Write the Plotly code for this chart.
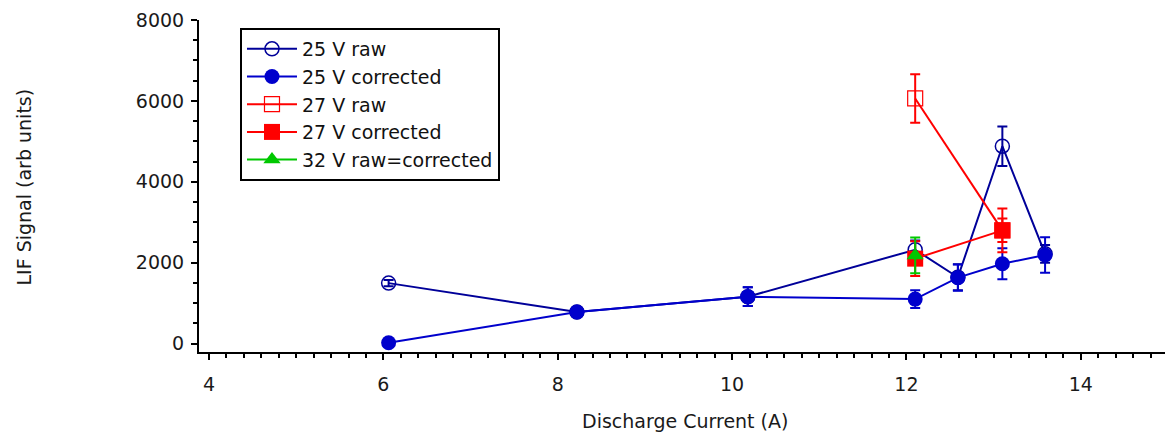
import plotly.graph_objects as go

# ---- data ----
x25 = [6.06, 8.22, 10.18, 12.1, 12.59, 13.1, 13.59]
y25_raw = [1495, 780, 1160, 2320, 1640, 4880, 2220]
e25_raw = [80, 100, 230, 230, 320, 490, 220]
y25_cor = [20, 780, 1160, 1100, 1630, 1975, 2190]
e25_cor = [60, 100, 230, 220, 325, 385, 440]

x27 = [12.1, 13.1]
y27_raw = [6060, 2800]
e27_raw = [600, 290]
y27_cor = [2100, 2800]
e27_cor = [430, 540]

x32 = [12.1]
y32 = [2180]
e32 = [440]

names = ["25 V raw", "25 V corrected", "27 V raw", "27 V corrected", "32 V raw=corrected"]

x_ticks = [4, 6, 8, 10, 12, 14]
y_ticks = [0, 2000, 4000, 6000, 8000]

FONT = "Verdana, DejaVu Sans, sans-serif"
NAVY = "#000099"
BLUE = "#0000cc"
RED = "#ff0000"
GREEN = "#00c800"

fig = go.Figure()

def add(x, y, e, name, color, symbol, size, mline=2):
    fig.add_trace(go.Scatter(
        x=x, y=y, name=name, mode="lines+markers",
        line=dict(color=color, width=2),
        marker=dict(color=color, symbol=symbol, size=size,
                    line=dict(color=color, width=mline)),
        error_y=dict(type="data", array=e, visible=True, color=color,
                     thickness=2, width=5),
    ))

add(x25, y25_raw, e25_raw, names[0], NAVY, "circle-open", 14, 1.5)
add(x25, y25_cor, e25_cor, names[1], BLUE, "circle", 15, 0)
add(x27, y27_raw, e27_raw, names[2], RED, "square-open", 15, 1.2)
add(x27, y27_cor, e27_cor, names[3], RED, "square", 16, 0)
add(x32, y32, e32, names[4], GREEN, "triangle-up", 15, 0)

XR = [3.885, 15.0]
YR = [-208, 8000]

common_x = dict(range=XR, tickvals=x_ticks, showgrid=False, zeroline=False,
                automargin=False)
common_y = dict(range=YR, tickvals=y_ticks, showgrid=False, zeroline=False,
                automargin=False)

fig.update_layout(
    width=1165, height=426,
    margin=dict(l=191, r=5, t=12, b=82, autoexpand=False),
    paper_bgcolor="white", plot_bgcolor="white",
    font=dict(family=FONT, size=19, color="#1a1a1a"),
    showlegend=True,
    legend=dict(
        x=0.0423, y=0.976, xanchor="left", yanchor="top",
        bordercolor="black", borderwidth=2, bgcolor="white",
        font=dict(family=FONT, size=19, color="#111111"),
        itemwidth=50, tracegroupgap=0,
        entrywidth=215, entrywidthmode="pixels",
    ),
    xaxis=dict(**common_x, showline=True, linecolor="black", linewidth=2,
               ticks="outside", ticklen=6, tickwidth=2, tickcolor="black",
               ticklabelstandoff=8, ticklabeloverflow="allow",
               minor=dict(ticks="outside", dtick=0.2, tick0=0, ticklen=4,
                          tickwidth=1.5, tickcolor="black"),
               tickfont=dict(family=FONT, size=19, color="#1a1a1a")),
    yaxis=dict(**common_y, showline=True, linecolor="black", linewidth=2,
               ticks="outside", ticklen=6, tickwidth=2, tickcolor="black",
               ticklabelstandoff=3, ticklabeloverflow="allow",
               minor=dict(ticks="outside", dtick=500, tick0=0, ticklen=4,
                          tickwidth=1.5, tickcolor="black"),
               tickfont=dict(family=FONT, size=19, color="#1a1a1a")),
    xaxis2=dict(**common_x, overlaying="x", anchor="y", side="bottom",
                showline=False, showticklabels=False,
                ticks="inside", ticklen=6, tickwidth=2, tickcolor="black",
                minor=dict(ticks="inside", dtick=0.2, tick0=0, ticklen=4,
                           tickwidth=1.5, tickcolor="black")),
    yaxis2=dict(**common_y, overlaying="y", anchor="x", side="left",
                showline=False, showticklabels=False,
                ticks="inside", ticklen=6, tickwidth=2, tickcolor="black",
                minor=dict(ticks="inside", dtick=500, tick0=0, ticklen=4,
                           tickwidth=1.5, tickcolor="black")),
    annotations=[
        dict(text="LIF Signal (arb units)", textangle=-90,
             xref="paper", yref="paper", x=-0.1806, y=0.4985,
             xanchor="center", yanchor="middle", showarrow=False,
             font=dict(family=FONT, size=19, color="#1a1a1a")),
        dict(text="Discharge Current (A)",
             xref="paper", yref="paper", x=0.5015, y=-0.2078,
             xanchor="center", yanchor="middle", showarrow=False,
             font=dict(family=FONT, size=19, color="#1a1a1a")),
    ],
)

fig.write_html("out.html")
